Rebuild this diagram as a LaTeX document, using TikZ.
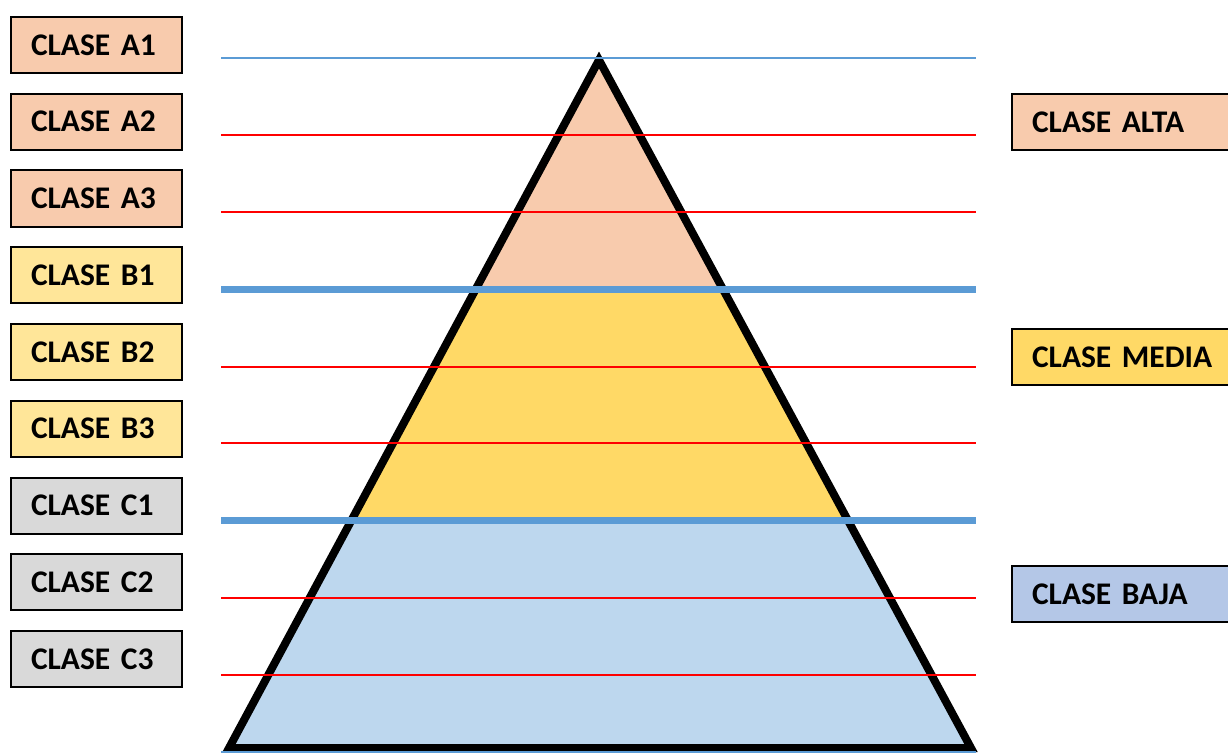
\documentclass[tikz,border=0pt]{standalone}
\usepackage{fontspec}
\setmainfont{Carlito}
\usetikzlibrary{positioning}
\definecolor{peach}{HTML}{F8CBAD}
\definecolor{paleyellow}{HTML}{FFE699}
\definecolor{gold}{HTML}{FFD966}
\definecolor{softgray}{HTML}{D9D9D9}
\definecolor{skyblue}{HTML}{BDD7EE}
\definecolor{lavblue}{HTML}{B4C7E7}
\definecolor{steel}{HTML}{5B9BD5}
\newcommand\clasefont{\fontsize{31.5}{36}\selectfont\bfseries\spaceskip=0.2em\relax}
\begin{document}
\begin{tikzpicture}[x=1pt, y=-1pt,
                    clase/.style={draw, line width=2pt, minimum height=56pt, inner xsep=20pt, text width=131pt, align=left, anchor=north west, font=\clasefont},
                    nivel/.style={clase, text width=185pt},
                    finoline/.style={red, line width=1.2pt},
                    gruesoline/.style={steel, line width=7pt}
                ]
                \useasboundingbox (0,0) rectangle (1228,754);
                % piramide
                \coordinate (cima) at (599,60);
                \coordinate (baseizq) at (229,748);
                \coordinate (baseder) at (971,748);
                \begin{scope}
                    \clip (cima) -- (baseizq) -- (baseder) -- cycle;
                    \fill[peach] (200,0) rectangle (1000,289);
                    \fill[gold] (200,289) rectangle (1000,520);
                    \fill[skyblue] (200,520) rectangle (1000,760);
                \end{scope}
                \draw[line width=8pt, line join=miter] (cima) -- (baseizq) -- (baseder) -- cycle;
                
                % lineas horizontales
                \draw[steel, line width=1.3pt] (221,58) -- (976,58);
                \foreach \y in {135,212,367,443,598,675}
                    \draw[finoline] (221,\y) -- (976,\y);
                \draw[gruesoline] (221,289) -- (976,289);
                \draw[gruesoline] (221,520) -- (976,520);
                \draw[steel, line width=1.3pt] (221,752) -- (976,752);
                
                % cajas de la izquierda
                \node[clase, fill=peach] (a1) at (10,16) {CLASE A1};
                \node[clase, fill=peach, below=18.75pt of a1] (a2) {CLASE A2};
                \node[clase, fill=peach, below=18.75pt of a2] (a3) {CLASE A3};
                \node[clase, fill=paleyellow, below=18.75pt of a3] (b1) {CLASE B1};
                \node[clase, fill=paleyellow, below=18.75pt of b1] (b2) {CLASE B2};
                \node[clase, fill=paleyellow, below=18.75pt of b2] (b3) {CLASE B3};
                \node[clase, fill=softgray, below=18.75pt of b3] (c1) {CLASE C1};
                \node[clase, fill=softgray, below=18.75pt of c1] (c2) {CLASE C2};
                \node[clase, fill=softgray, below=18.75pt of c2] (c3) {CLASE C3};
                
                % cajas de la derecha
                \node[nivel, fill=peach] (alta) at (1011,93) {CLASE ALTA};
                \node[nivel, fill=gold] (media) at (1011,328) {CLASE MEDIA};
                \node[nivel, fill=lavblue] (baja) at (1011,565) {CLASE BAJA};
\end{tikzpicture}
\end{document}
